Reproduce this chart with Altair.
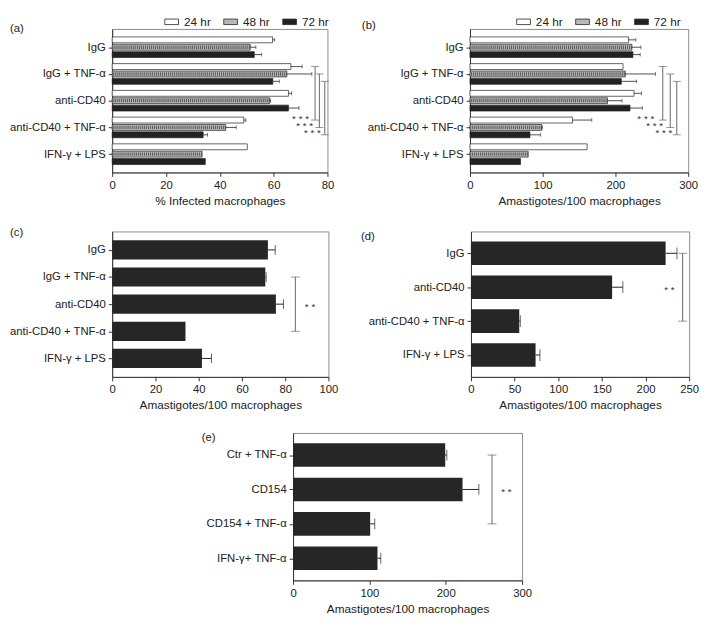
import json
import altair as alt
import pandas as pd

FONT = "Liberation Sans"
INK = "#222222"
BRACKET = "#555555"

# ---------------- data ----------------
times = ["24 hr", "48 hr", "72 hr"]
time_colors = ["#ffffff", "#b8b8b8", "#222222"]
time_offsets = [-0.276, 0.0, 0.276]

cats_ab = ["IgG", "IgG + TNF-α", "anti-CD40", "anti-CD40 + TNF-α", "IFN-γ + LPS"]

# (a) % infected macrophages
a_24 = [59.6, 66.4, 65.5, 48.9, 50.2]
a_24_err = [60.4, 70.6, 66.7, 49.7, None]
a_48 = [51.3, 64.9, 58.5, 42.2, 33.4]
a_48_err = [53.4, 74.2, 58.9, 46.1, None]
a_72 = [52.8, 59.7, 65.5, 33.8, 34.6]
a_72_err = [55.5, 62.1, 69.4, 35.4, None]
a_bracket_x = [75.4, 77.0, 79.0]
a_star_x = [70.0, 71.5, 74.4]
a_star_y = [2.56, 2.85, 3.10]

# (b) amastigotes / 100 macrophages
b_24 = [218, 210.4, 225.6, 141, 161]
b_24_err = [228, None, 236, 167.5, None]
b_48 = [222.6, 213.5, 189, 98.5, 80]
b_48_err = [235, 255, 209, 99.5, None]
b_72 = [224, 208, 220, 82.4, 69.5]
b_72_err = [234, 229, 237, 97.2, None]
b_bracket_x = [265, 275.3, 284.3]
b_star_x = [241.7, 253.8, 266.6]
b_star_y = [2.56, 2.85, 3.10]

bracket_from_cat = 1
bracket_to_cat = 3

# (c)
cats_c = ["IgG", "IgG + TNF-α", "anti-CD40", "anti-CD40 + TNF-α", "IFN-γ + LPS"]
c_val = [72.0, 70.8, 75.7, 33.9, 41.5]
c_err = [75.4, 71.2, 79.2, None, 45.9]
c_bracket = [84.7, 1, 3]
c_star = [91.5, 2]

# (d)
cats_d = ["IgG", "anti-CD40", "anti-CD40 + TNF-α", "IFN-γ + LPS"]
d_val = [223.0, 161.7, 55.3, 74.0]
d_err = [236.0, 174.0, 56.5, 79.0]
d_bracket = [242.5, 0, 2]
d_star = [227.4, 1]

# (e)
cats_e = ["Ctr + TNF-α", "CD154", "CD154 + TNF-α", "IFN-γ+ TNF-α"]
e_val = [199.3, 222.0, 101.0, 110.6]
e_err = [201.4, 243.4, 107.0, 114.9]
e_bracket = [260.6, 0, 2]
e_star = [279.4, 1]

amas_title = "Amastigotes/100 macrophages"


# ---------------- helpers ----------------
def make_x(field, xdom, xticks, xtitle):
    return alt.X(field, type="quantitative",
                 scale=alt.Scale(domain=xdom, nice=False, zero=False),
                 axis=alt.Axis(values=xticks, title=xtitle, grid=False, tickSize=4,
                               labelFlush=False, labelPadding=3, titlePadding=5))


def make_y(field, cats):
    n = len(cats)
    return alt.Y(field, type="quantitative",
                 scale=alt.Scale(domain=[-0.5, n - 0.5], reverse=True, nice=False, zero=False),
                 axis=alt.Axis(values=list(range(n)),
                               labelExpr=json.dumps(cats, ensure_ascii=False) + "[datum.value]",
                               title=None, grid=False, tickSize=4, labelPadding=3,
                               labelOverlap=False))


def tag_layer(tag, dx, dy):
    return alt.Chart(pd.DataFrame({"t": [tag]})).mark_text(
        align="left", baseline="middle", fontSize=11.5, color=INK
    ).encode(x=alt.value(dx), y=alt.value(dy), text="t:N")


def grouped_panel(vals, errs, cats, xdom, xticks, xtitle, width, height,
                  br_x, star_x, star_y, tag, tag_dx, tag_dy, legend_x):
    rows = []
    for t, (vv, ee, off) in enumerate(zip(vals, errs, time_offsets)):
        for i, (v, e) in enumerate(zip(vv, ee)):
            rows.append({"cat": cats[i], "time": times[t], "pos": i + off, "val": v, "err": e})
    df = pd.DataFrame(rows)
    X = lambda f: make_x(f, xdom, xticks, xtitle)
    Y = lambda f: make_y(f, cats)
    base = alt.Chart(df)
    bars = base.mark_bar(size=6, stroke=INK, strokeWidth=0.7).encode(
        x=X("val"), x2=alt.datum(0), y=Y("pos"),
        color=alt.Color("time:N", scale=alt.Scale(domain=times, range=time_colors),
                        legend=alt.Legend(title=None, orient="none", legendX=legend_x, legendY=-15,
                                          direction="horizontal",
                                          symbolType="M-1,-0.4H1V0.4H-1Z", symbolSize=196,
                                          symbolStrokeColor=INK, symbolStrokeWidth=0.8,
                                          labelFontSize=12, labelOffset=5, columnPadding=10,
                                          labelColor=INK)))
    hatch = base.transform_filter(alt.datum.time == times[1]).mark_rule(
        color="#555555", strokeWidth=3.4, strokeDash=[1, 1]
    ).encode(x=X("val"), x2=alt.datum(0), y=Y("pos"))
    ebar = base.transform_filter("isValid(datum.err)").mark_rule(color=INK, strokeWidth=0.8).encode(
        x=X("val"), x2="err", y=Y("pos"))
    ecap = base.transform_filter("isValid(datum.err)").mark_tick(
        orient="vertical", size=4, thickness=0.8, color=INK).encode(x=X("err"), y=Y("pos"))
    brdf = pd.DataFrame({"bx": br_x,
                         "y1": [bracket_from_cat + o for o in time_offsets],
                         "y2": [bracket_to_cat + o for o in time_offsets]})
    br = alt.Chart(brdf).mark_rule(color=BRACKET, strokeWidth=0.9).encode(
        x=X("bx"), y=Y("y1"), y2="y2")
    brcap = alt.Chart(brdf).transform_fold(["y1", "y2"], as_=["end", "yy"]).mark_tick(
        orient="horizontal", size=8, thickness=0.9, color=BRACKET).encode(x=X("bx"), y=Y("yy"))
    st = alt.Chart(pd.DataFrame({"sx": star_x, "sy": star_y, "t": ["* * *"] * len(star_x)})).mark_text(
        fontSize=10, dy=3, color="#333333").encode(x=X("sx"), y=Y("sy"), text="t:N")
    return alt.layer(bars, hatch, ebar, ecap, br, brcap, st, tag_layer(tag, tag_dx, tag_dy)).properties(
        width=width, height=height)


def simple_panel(vals, errs, cats, xdom, xticks, xtitle, width, height, bar_size, cap_size,
                 bracket, star, tag, tag_dx, tag_dy):
    df = pd.DataFrame({"cat": cats, "pos": list(range(len(cats))), "val": vals, "err": errs})
    X = lambda f: make_x(f, xdom, xticks, xtitle)
    Y = lambda f: make_y(f, cats)
    base = alt.Chart(df)
    bars = base.mark_bar(size=bar_size, color="#262626").encode(x=X("val"), x2=alt.datum(0), y=Y("pos"))
    ebar = base.transform_filter("isValid(datum.err)").mark_rule(color=INK, strokeWidth=1).encode(
        x=X("val"), x2="err", y=Y("pos"))
    ecap = base.transform_filter("isValid(datum.err)").mark_tick(
        orient="vertical", size=cap_size, thickness=1, color=INK).encode(x=X("err"), y=Y("pos"))
    brdf = pd.DataFrame({"bx": [bracket[0]], "y1": [bracket[1]], "y2": [bracket[2]]})
    br = alt.Chart(brdf).mark_rule(color=BRACKET, strokeWidth=0.9).encode(
        x=X("bx"), y=Y("y1"), y2="y2")
    brcap = alt.Chart(brdf).transform_fold(["y1", "y2"], as_=["end", "yy"]).mark_tick(
        orient="horizontal", size=9, thickness=0.9, color=BRACKET).encode(x=X("bx"), y=Y("yy"))
    st = alt.Chart(pd.DataFrame({"sx": [star[0]], "sy": [star[1]], "t": ["* *"]})).mark_text(
        fontSize=10, dy=3, color="#333333").encode(x=X("sx"), y=Y("sy"), text="t:N")
    return alt.layer(bars, ebar, ecap, br, brcap, st, tag_layer(tag, tag_dx, tag_dy)).properties(
        width=width, height=height)


# ---------------- panels ----------------
pa = grouped_panel([a_24, a_48, a_72], [a_24_err, a_48_err, a_72_err], cats_ab,
                   [0, 80], [0, 20, 40, 60, 80], "% Infected macrophages", 219, 146,
                   a_bracket_x, a_star_x, a_star_y, "(a)", -104, 0, 53)
pb = grouped_panel([b_24, b_48, b_72], [b_24_err, b_48_err, b_72_err], cats_ab,
                   [0, 300], [0, 100, 200, 300], amas_title, 222, 146,
                   b_bracket_x, b_star_x, b_star_y, "(b)", -110, -3, 47)
pc = simple_panel(c_val, c_err, cats_c, [0, 100], [0, 20, 40, 60, 80, 100], amas_title, 220, 148,
                  19.5, 10, c_bracket, c_star, "(c)", -104, 2)
pd_ = simple_panel(d_val, d_err, cats_d, [0, 250], [0, 50, 100, 150, 200, 250], amas_title, 222, 148,
                   24, 12, d_bracket, d_star, "(d)", -112, 6)
pe = simple_panel(e_val, e_err, cats_e, [0, 300], [0, 100, 200, 300], amas_title, 233, 150,
                  24, 11, e_bracket, e_star, "(e)", -93, 5)

spacer = alt.Chart(pd.DataFrame({"v": [0]})).mark_point(opacity=0).encode(
    x=alt.X("v:Q", axis=None), y=alt.Y("v:Q", axis=None)
).properties(width=75, height=20, view=alt.ViewBackground(stroke="transparent"))

row1 = alt.hconcat(pa, pb, spacing=27).resolve_scale(
    color="independent").resolve_legend(color="independent")
row2 = alt.hconcat(pc, pd_, spacing=21)
row3 = alt.hconcat(spacer, pe, spacing=14)

chart = alt.vconcat(row1, row2, row3, spacing=20).properties(
    padding={"left": 0, "top": 0, "right": 0, "bottom": 0}
).configure(font=FONT).configure_view(
    stroke="#8c8c8c", strokeWidth=1
).configure_axis(
    labelFontSize=11.5, titleFontSize=12, titleFontWeight="normal",
    labelColor=INK, titleColor=INK, domainColor="#333333", tickColor="#333333",
    domainWidth=1, tickWidth=1
)

chart.save("out.html", embed_options={"renderer": "svg", "actions": False})
